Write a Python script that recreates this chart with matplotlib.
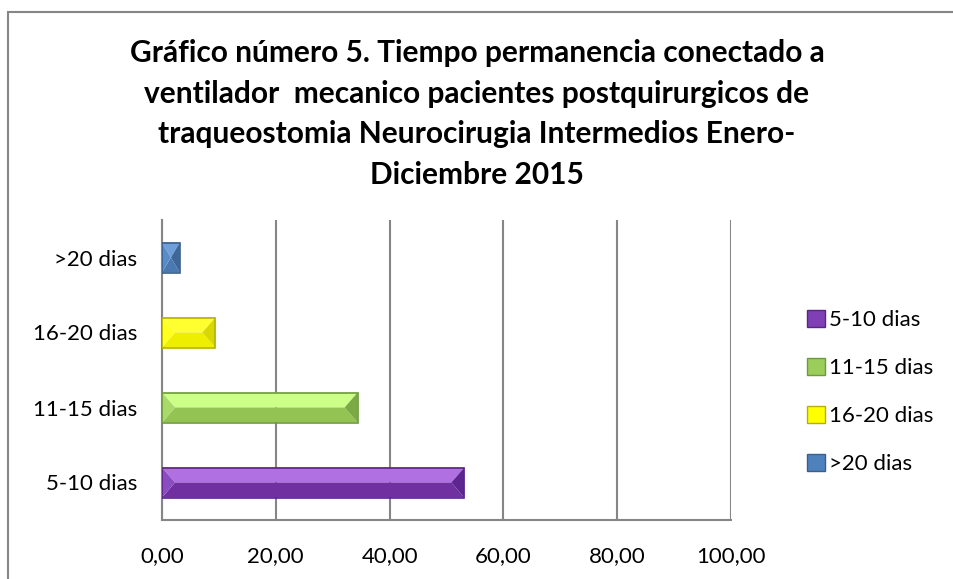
import matplotlib.pyplot as plt
from matplotlib.patches import Polygon, Rectangle
from matplotlib.ticker import FuncFormatter
import numpy as np

categorias = ['5-10 dias', '11-15 dias', '16-20 dias', '>20 dias']
porcentajes = [53.13, 34.38, 9.38, 3.13]
xticks = [0, 20, 40, 60, 80, 100]

titulo = ('Gráfico número 5. Tiempo permanencia conectado a\n'
          'ventilador  mecanico pacientes postquirurgicos de\n'
          'traqueostomia Neurocirugia Intermedios Enero-\n'
          'Diciembre 2015')

# colors per series: face, light (top), dark (bottom), left, right, edge
colores = [
    ('#7F3FB5', '#B070E2', '#7030A0', '#8A4CC0', '#5E2590', '#5A2388'),
    ('#9ACD5A', '#CCFF88', '#92C353', '#A8DA6A', '#7BAA44', '#6E9A3C'),
    ('#FFFF00', '#FFFF30', '#EEEE00', '#FFFF20', '#D8D800', '#B8B000'),
    ('#4F81BD', '#6E9FDB', '#4A78B0', '#5A8CC8', '#3E6697', '#3A5F8C'),
]

plt.rcParams['font.family'] = ['Lato', 'DejaVu Sans']

fig = plt.figure(figsize=(9.54, 5.79), dpi=100)
ax = fig.add_axes([162 / 954, 1 - 520 / 579, (731 - 162) / 954, 300 / 579])

y = np.arange(len(categorias))
alto = 0.4
bars = ax.barh(y, porcentajes, height=alto, color='none', zorder=3)

# bevel effect drawn over each bar
px_per_unit = (731 - 162) / 100.0
for b, c in zip(bars, colores):
    x0, y0 = b.get_x(), b.get_y()
    w, h = b.get_width(), b.get_height()
    x1, y1 = x0 + w, y0 + h
    ym = y0 + h / 2
    d = min(13 / px_per_unit, w / 2)
    face, light, dark, left, right, edge = c
    ax.add_patch(Polygon([(x0, y1), (x1, y1), (x1 - d, ym), (x0 + d, ym)],
                         closed=True, facecolor=light, edgecolor='none', zorder=3))
    ax.add_patch(Polygon([(x0, y0), (x1, y0), (x1 - d, ym), (x0 + d, ym)],
                         closed=True, facecolor=dark, edgecolor='none', zorder=3))
    ax.add_patch(Polygon([(x0, y0), (x0, y1), (x0 + d, ym)],
                         closed=True, facecolor=left, edgecolor='none', zorder=3))
    ax.add_patch(Polygon([(x1, y0), (x1, y1), (x1 - d, ym)],
                         closed=True, facecolor=right, edgecolor='none', zorder=3))
    ax.add_patch(Rectangle((x0, y0), w, h, facecolor='none', edgecolor=edge,
                           linewidth=1.2, zorder=4))

ax.set_xlim(0, 100)
ax.set_ylim(-0.5, 3.5)
ax.set_xticks(xticks)
ax.xaxis.set_major_formatter(FuncFormatter(lambda v, p: f'{v:.2f}'.replace('.', ',')))
ax.set_yticks(y)
ax.set_yticklabels(categorias)
ax.tick_params(axis='both', length=0, labelsize=16, colors='black')
ax.tick_params(axis='x', pad=19)
ax.tick_params(axis='y', pad=18)
ax.grid(axis='x', color='#868686', linewidth=1.5, zorder=0)
for s in ['top', 'right']:
    ax.spines[s].set_visible(False)
for s in ['left', 'bottom']:
    ax.spines[s].set_color('#868686')
    ax.spines[s].set_linewidth(1.5)

# legend
handles = [Rectangle((0, 0), 1, 1, facecolor=c[0], edgecolor=c[5]) for c in colores]
fig.legend(handles, categorias, loc='upper left', bbox_to_anchor=(789 / 954, 1 - 292 / 579),
           frameon=False, fontsize=16, handlelength=0.8, handleheight=0.8,
           handletextpad=0.2, labelspacing=1.25, borderpad=0.3)

fig.text(0.5, 1 - 114 / 579, titulo, ha='center', va='center', fontsize=21.5,
         fontweight='bold', linespacing=1.55)

# chart area border
fig.add_artist(Rectangle((8.5 / 954, -0.1), 1.2, 1 - 11.5 / 579 + 0.1,
                         transform=fig.transFigure, facecolor='none',
                         edgecolor='#868686', linewidth=1.5))

fig.savefig('out.png', dpi=100)
